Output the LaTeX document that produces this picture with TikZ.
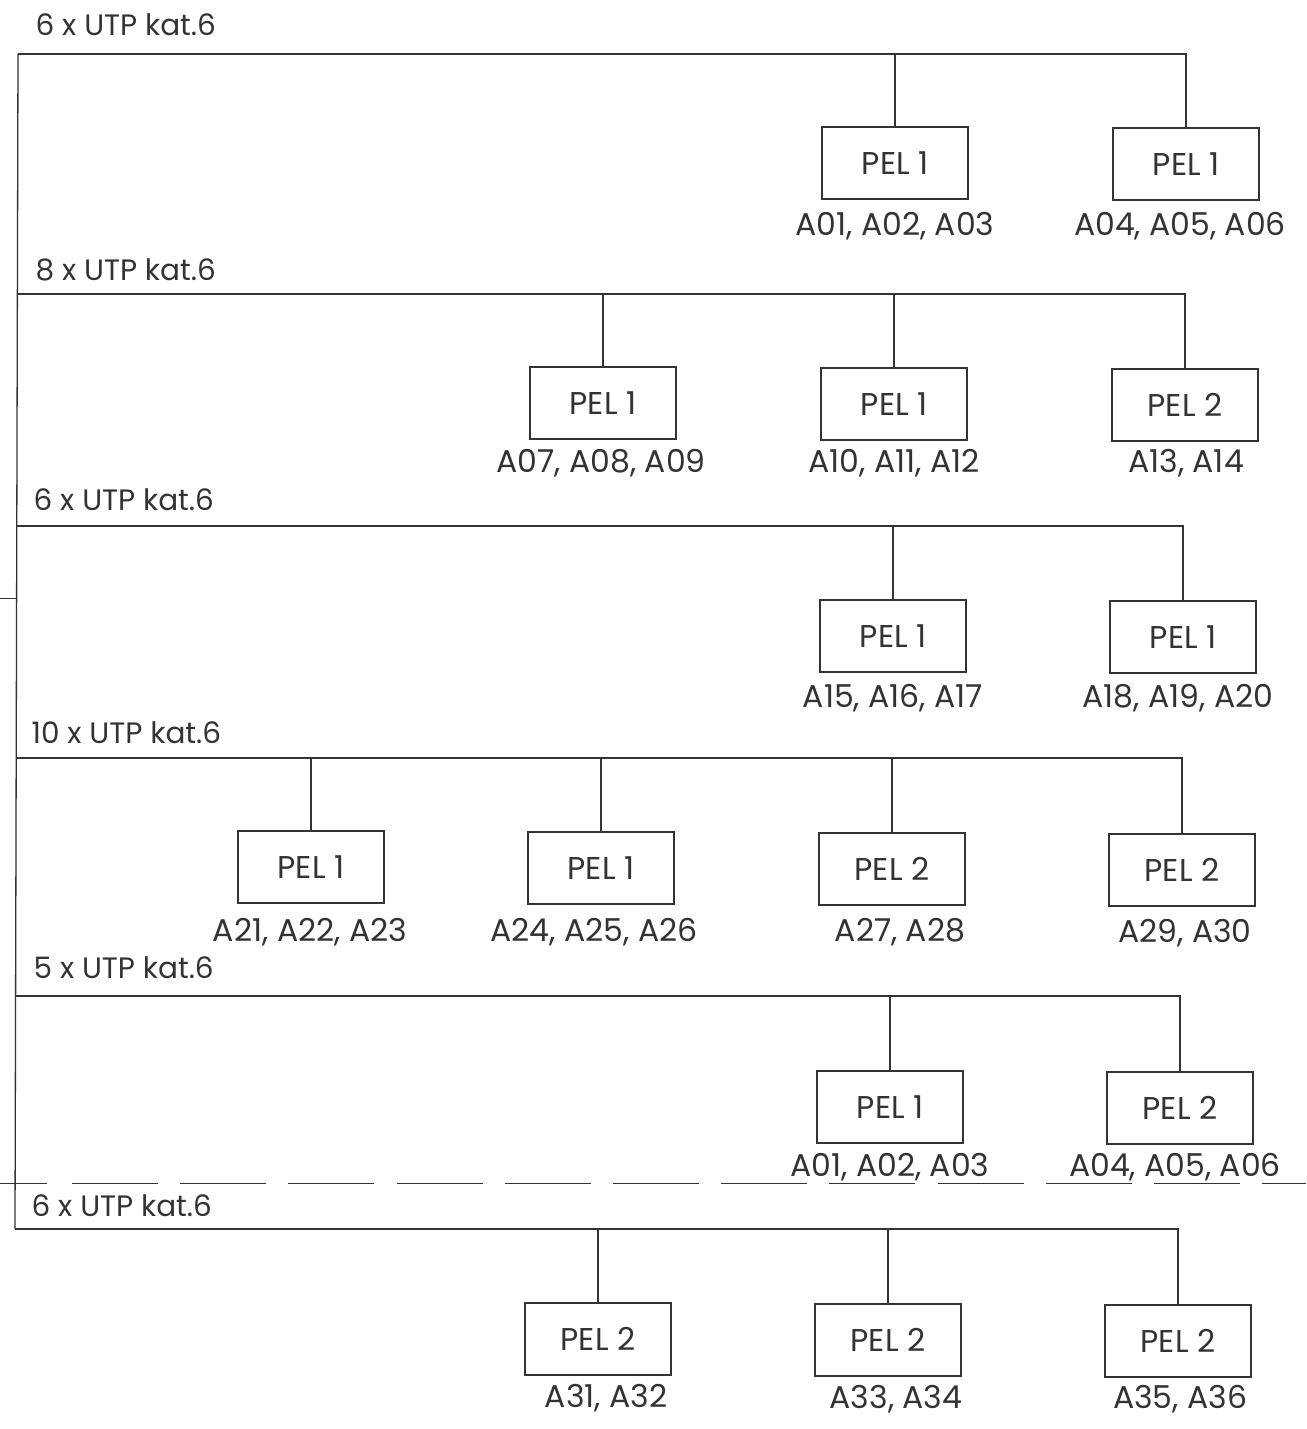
\documentclass[tikz,border=0pt]{standalone}
\usepackage{fontspec}
\setmainfont{Poppins}
\definecolor{ink}{HTML}{333333}
\begin{document}
\begin{tikzpicture}[x=1pt,y=-1pt,line width=1.3pt,draw=ink,text=ink,
  box/.style={draw=ink,minimum width=146pt,minimum height=72pt,inner sep=0pt,font=\fontsize{31.5}{36}\selectfont},
  lab/.style={inner sep=0pt,font=\fontsize{31.5}{36}\selectfont},
  head/.style={inner sep=0pt,anchor=west,font=\fontsize{29.5}{34}\selectfont}]
\useasboundingbox (0,0) rectangle (1306,1429);
\fill[white] (0,0) rectangle (1306,1429);
% main vertical line
\coordinate (top) at (18,54);
\coordinate (bot) at (15,1229);
\draw (top) -- (bot);
% bus coordinates
\coordinate (s1) at (18,54);   \coordinate (c1) at (1186,54);
\coordinate (s2) at (18,294);  \coordinate (c2) at (1185,294);
\coordinate (s3) at (17,526);  \coordinate (c3) at (1183,526);
\coordinate (s4) at (17,758);  \coordinate (c4) at (1182,758);
\coordinate (s5) at (16,996);  \coordinate (c5) at (1180,996);
\coordinate (s6) at (15,1229); \coordinate (c6) at (1178,1229);
% headings
\node[head] (h1) at (35,25) {6 x UTP kat.6};
\node[head] (h2) at (35,270) {8 x UTP kat.6};
\node[head] (h3) at (33,500) {6 x UTP kat.6};
\node[head] (h4) at (31,733) {10 x UTP kat.6};
\node[head] (h5) at (33,968) {5 x UTP kat.6};
\node[head] (h6) at (31,1206) {6 x UTP kat.6};
% bus 1
\node[box] (b11) at (895,163) {PEL 1};
\node[box] (b12) at (1186,164) {PEL 1};
\node[lab] (l11) at (895,226) {A01, A02, A03};
\node[lab] (l12) at (1180,226) {A04, A05, A06};
\draw (s1) -- (c1) -- (b12.north);
\draw (b11.north) -- (b11.north |- s1);
% bus 2
\node[box] (b21) at (603,403) {PEL 1};
\node[box] (b22) at (894,404) {PEL 1};
\node[box] (b23) at (1185,405) {PEL 2};
\node[lab] (l21) at (601,463) {A07, A08, A09};
\node[lab] (l22) at (894,463) {A10, A11, A12};
\node[lab] (l23) at (1186,463) {A13, A14};
\draw (s2) -- (c2) -- (b23.north);
\draw (b21.north) -- (b21.north |- s2);
\draw (b22.north) -- (b22.north |- s2);
% bus 3
\node[box] (b31) at (893,636) {PEL 1};
\node[box] (b32) at (1183,637) {PEL 1};
\node[lab] (l31) at (893,698) {A15, A16, A17};
\node[lab] (l32) at (1178,698) {A18, A19, A20};
\draw (s3) -- (c3) -- (b32.north);
\draw (b31.north) -- (b31.north |- s3);
% bus 4
\node[box] (b41) at (311,867) {PEL 1};
\node[box] (b42) at (601,868) {PEL 1};
\node[box] (b43) at (892,869) {PEL 2};
\node[box] (b44) at (1182,870) {PEL 2};
\node[lab] (l41) at (310,932) {A21, A22, A23};
\node[lab] (l42) at (594,932) {A24, A25, A26};
\node[lab] (l43) at (900,932) {A27, A28};
\node[lab] (l44) at (1185,933) {A29, A30};
\draw (s4) -- (c4) -- (b44.north);
\draw (b41.north) -- (b41.north |- s4);
\draw (b42.north) -- (b42.north |- s4);
\draw (b43.north) -- (b43.north |- s4);
% bus 5
\node[box] (b51) at (890,1107) {PEL 1};
\node[box] (b52) at (1180,1108) {PEL 2};
\node[lab] (l51) at (890,1167) {A01, A02, A03};
\node[lab] (l52) at (1175,1167) {A04, A05, A06};
\draw (s5) -- (c5) -- (b52.north);
\draw (b51.north) -- (b51.north |- s5);
% bus 6
\node[box] (b61) at (598,1339) {PEL 2};
\node[box] (b62) at (888,1340) {PEL 2};
\node[box] (b63) at (1178,1341) {PEL 2};
\node[lab] (l61) at (606,1398) {A31, A32};
\node[lab] (l62) at (896,1399) {A33, A34};
\node[lab] (l63) at (1180,1399) {A35, A36};
\draw (s6) -- (c6) -- (b63.north);
\draw (b61.north) -- (b61.north |- s6);
\draw (b62.north) -- (b62.north |- s6);
% stub and dashed line
\draw[line width=1pt] (0,598) -- (17,598);
\draw[line width=1pt] (0,1183) -- (47,1183);
\foreach \i in {0,...,10}{
  \draw[line width=1pt] ({72+108.2*\i},1183) -- ++(86,0);
}
\draw[line width=1pt] (1262,1183) -- (1306,1183);
\end{tikzpicture}
\end{document}
